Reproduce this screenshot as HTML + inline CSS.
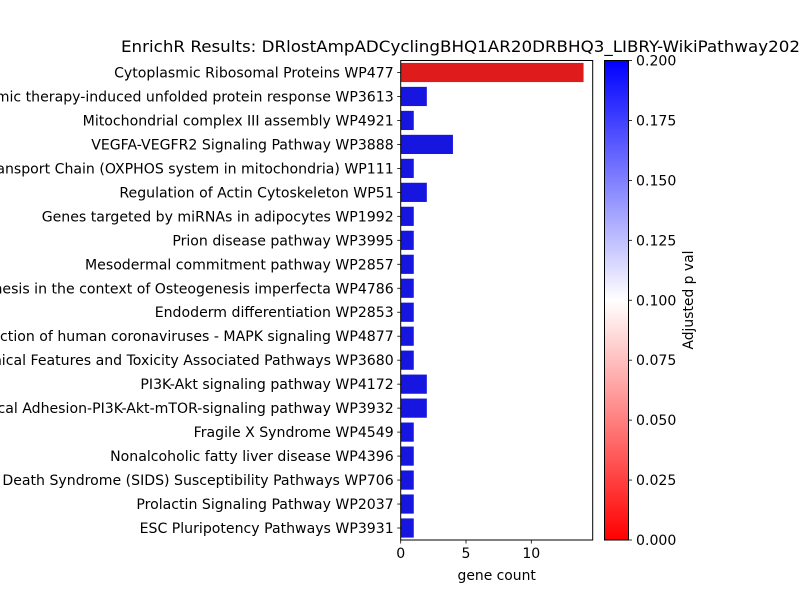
<!DOCTYPE html>
<html><head><meta charset="utf-8"><style>
html,body{margin:0;padding:0;background:#fff;}
svg{display:block;font-family:"DejaVu Sans","Liberation Sans",sans-serif;}
</style></head><body>
<svg id="chart" width="800" height="600" viewBox="0 0 800 600">
<defs><linearGradient id="cbgrad" x1="0" y1="1" x2="0" y2="0">
<stop offset="0" stop-color="#ff0000"/><stop offset="0.5" stop-color="#ffffff"/><stop offset="1" stop-color="#0000ff"/></linearGradient></defs>
<text y="52" font-size="16" fill="#000"><tspan x="121" textLength="679" lengthAdjust="spacingAndGlyphs">EnrichR Results: DRlostAmpADCyclingBHQ1AR20DRBHQ3_LIBRY-WikiPathway202</tspan><tspan>1_Human</tspan></text>
<g id="plot"></g>
<rect x="604.5" y="60.5" width="24" height="479.5" fill="url(#cbgrad)" stroke="#000" stroke-width="1"/>
<g id="cbticks"></g>
<text transform="translate(693,300) rotate(-90)" text-anchor="middle" font-size="13.9">Adjusted p val</text>
<text x="496.7" y="580" text-anchor="middle" font-size="13.9">gene count</text>
</svg>
<script>
const categories = ["Cytoplasmic Ribosomal Proteins WP477","Photodynamic therapy-induced unfolded protein response WP3613","Mitochondrial complex III assembly WP4921","VEGFA-VEGFR2 Signaling Pathway WP3888","Electron Transport Chain (OXPHOS system in mitochondria) WP111","Regulation of Actin Cytoskeleton WP51","Genes targeted by miRNAs in adipocytes WP1992","Prion disease pathway WP3995","Mesodermal commitment pathway WP2857","Osteoblastogenesis in the context of Osteogenesis imperfecta WP4786","Endoderm differentiation WP2853","Host-pathogen interaction of human coronaviruses - MAPK signaling WP4877","Chemical Features and Toxicity Associated Pathways WP3680","PI3K-Akt signaling pathway WP4172","Focal Adhesion-PI3K-Akt-mTOR-signaling pathway WP3932","Fragile X Syndrome  WP4549","Nonalcoholic fatty liver disease WP4396","Sudden Infant Death Syndrome (SIDS) Susceptibility Pathways WP706","Prolactin Signaling Pathway WP2037","ESC Pluripotency Pathways WP3931"];
const geneCounts = [14,2,1,4,1,2,1,1,1,1,1,1,1,2,2,1,1,1,1,1];
const adjPvals = [0.012,0.19,0.19,0.19,0.19,0.19,0.19,0.19,0.19,0.19,0.19,0.19,0.19,0.19,0.19,0.19,0.19,0.19,0.19,0.19];
const xTicks = [0,5,10];
const cbTicks = ["0.000","0.025","0.050","0.075","0.100","0.125","0.150","0.175","0.200"];

const NS="http://www.w3.org/2000/svg";
const L=400.7,R=592.7,T=60.5,B=540;
const FS=14.1;
const xmax=Math.max(...geneCounts)*1.05;
const xs=v=>L+v/xmax*(R-L);
const slot=(B-T)/categories.length;
const ys=i=>T+slot*(i+0.5);
function colorFor(p){
  const t=Math.max(0,Math.min(1,p/0.2));let r,g,b;
  if(t<0.5){const u=t/0.5;r=1;g=u;b=u;}else{const u=(t-0.5)/0.5;r=1-u;g=1-u;b=1;}
  const f=0.88;return `rgb(${Math.round(r*255*f)},${Math.round(g*255*f)},${Math.round(b*255*f)})`;
}
function mk(tag,attrs,parent){const e=document.createElementNS(NS,tag);for(const k in attrs)e.setAttribute(k,attrs[k]);parent.appendChild(e);return e;}
const g=document.getElementById('plot');
categories.forEach((c,i)=>{
  const y=ys(i);
  const bar=mk('rect',{x:xs(0),y:y-slot*0.4,width:xs(geneCounts[i])-xs(0),height:slot*0.8,fill:colorFor(adjPvals[i])},g);
  
  
  const tk=mk('line',{x1:L-3.5,x2:L,y1:y,y2:y,stroke:'#000','stroke-width':0.8},g);
  
  
  const lb=mk('text',{x:L-7,y:y+5,'text-anchor':'end','font-size':FS},g);
  lb.textContent=c;
  
  
});
xTicks.forEach(v=>{
  const x=xs(v);
  const tk=mk('line',{x1:x,x2:x,y1:B,y2:B+3.5,stroke:'#000','stroke-width':0.8},g);
  
  
  const lb=mk('text',{x:x,y:B+18,'text-anchor':'middle','font-size':FS},g);
  lb.textContent=v;
  
  
});
const frame=mk('rect',{x:L,y:T,width:R-L,height:B-T,fill:'none',stroke:'#000','stroke-width':1},g);


const cg=document.getElementById('cbticks');
cbTicks.forEach((t,i)=>{
  const y=B-(B-T)*i/(cbTicks.length-1);
  const tk=mk('line',{x1:628.5,x2:632,y1:y,y2:y,stroke:'#000','stroke-width':0.8},cg);
  
  
  const lb=mk('text',{x:636,y:y+5,'font-size':FS},cg);
  lb.textContent=t;
  
  
});
</script>
</body></html>
